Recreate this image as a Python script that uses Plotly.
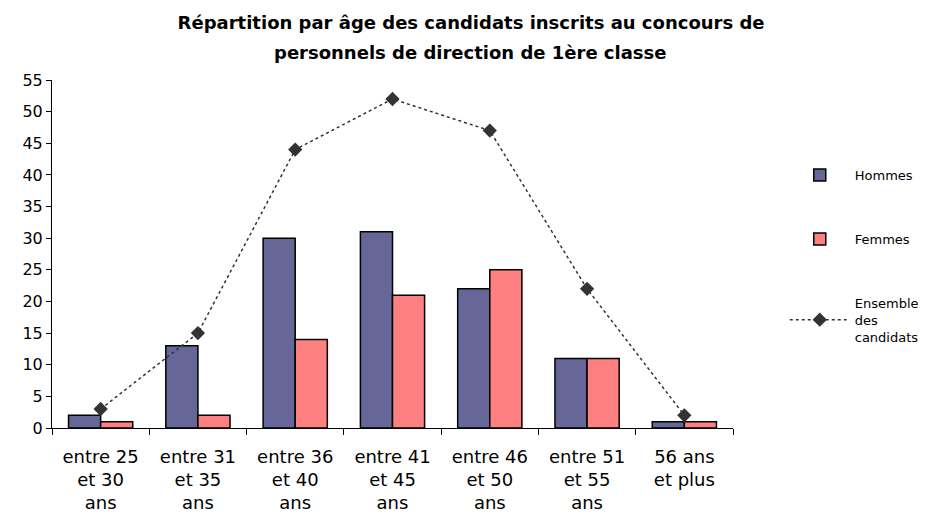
import plotly.graph_objects as go

categories = ["entre 25<br>et 30<br>ans", "entre 31<br>et 35<br>ans", "entre 36<br>et 40<br>ans",
              "entre 41<br>et 45<br>ans", "entre 46<br>et 50<br>ans", "entre 51<br>et 55<br>ans",
              "56 ans<br>et plus"]
hommes = [2, 13, 30, 31, 22, 11, 1]
femmes = [1, 2, 14, 21, 25, 11, 1]
ensemble = [3, 15, 44, 52, 47, 22, 2]
y_ticks = list(range(0, 56, 5))
title_line1 = "Répartition par âge des candidats inscrits au concours de"
title_line2 = "personnels de direction de 1ère classe"

FONT = "DejaVu Sans, Liberation Sans, Arial, sans-serif"

fig = go.Figure()
fig.add_trace(go.Bar(x=categories, y=hommes, name="Hommes", legendgroup="h",
                     marker=dict(color="#666699", line=dict(color="black", width=1.5))))
fig.add_trace(go.Bar(x=categories, y=femmes, name="Femmes", legendgroup="f",
                     marker=dict(color="#FF8080", line=dict(color="black", width=1.5))))
fig.add_trace(go.Scatter(x=categories, y=ensemble, name="Ensemble<br>des<br>candidats", legendgroup="e",
                         mode="lines+markers",
                         line=dict(color="#333333", width=1.5, dash="dot"),
                         marker=dict(symbol="diamond", size=11, color="#333333")))

fig.update_layout(
    width=928, height=518,
    paper_bgcolor="white", plot_bgcolor="white",
    margin=dict(l=44, r=203, t=72, b=98),
    font=dict(family=FONT, color="black"),
    title=dict(text="<b>" + title_line1 + "</b>",
               x=0.499, xanchor="center", y=0.972, yanchor="middle", font=dict(size=18, family=FONT)),
    annotations=[dict(text="<b>" + title_line2 + "</b>", xref="paper", yref="paper",
                      x=0.615, y=1.078, xanchor="center", yanchor="middle", showarrow=False,
                      font=dict(size=18, family=FONT))],
    barmode="group", bargap=0.34, bargroupgap=0,
    showlegend=True,
    legend=dict(x=1.076, y=0.77, xanchor="left", yanchor="top", font=dict(size=13),
                itemwidth=60, tracegroupgap=44, traceorder="grouped", bgcolor="rgba(0,0,0,0)"),
    xaxis=dict(showline=True, linecolor="black", linewidth=1, ticks="outside",
               tickson="boundaries", ticklen=6, tickcolor="black", ticklabelstandoff=12,
               tickfont=dict(size=18), showgrid=False),
    yaxis=dict(range=[0, 55], tickvals=y_ticks, showline=True, linecolor="black", linewidth=1,
               ticks="outside", ticklen=5, tickcolor="black", tickfont=dict(size=16),
               showgrid=False, zeroline=False),
)
fig.write_html("out.html")
